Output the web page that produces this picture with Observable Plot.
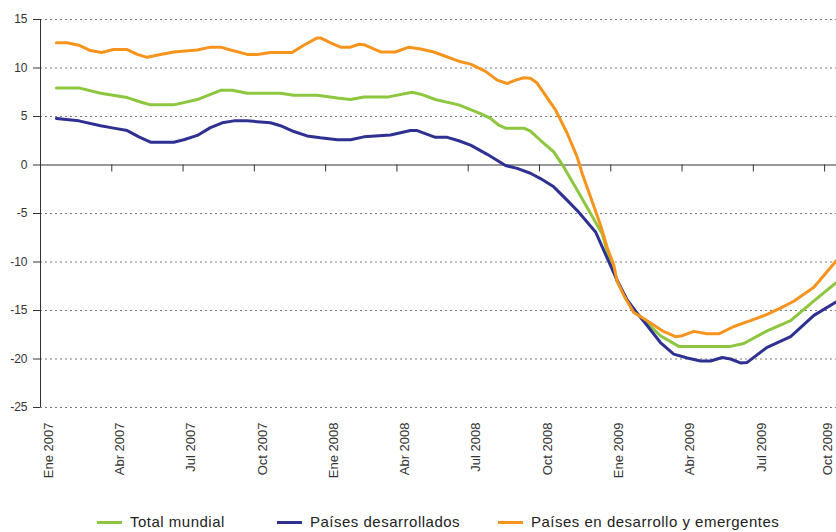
<!DOCTYPE html>
<html><head><meta charset="utf-8">
<script src="https://cdn.jsdelivr.net/npm/d3@7"></script>
<script src="https://cdn.jsdelivr.net/npm/@observablehq/plot@0.6"></script>
<style>
body{margin:0;background:#fff;font-family:"Liberation Sans",Arial,sans-serif;}
#wrap{position:relative;width:836px;height:532px;overflow:hidden;}
.leg{position:absolute;top:512px;height:20px;line-height:20px;display:flex;align-items:center;font-size:15px;letter-spacing:0.5px;color:#222;white-space:nowrap;}
.sw{display:inline-block;width:25px;height:3px;margin-right:8px;}
</style></head><body>
<div id="wrap"><div id="chart"></div><div id="legend"></div></div>
<script>
// Series names and colours
const seriesNames = ["Total mundial", "Países desarrollados", "Países en desarrollo y emergentes"];
const seriesColors = ["#8dc63f", "#2e3192", "#f7941d"];

// X ticks: months since Ene 2007
const tickMonths = [0, 3, 6, 9, 12, 15, 18, 21, 24, 27, 30, 33];
const tickLabels = ["Ene 2007", "Abr 2007", "Jul 2007", "Oct 2007", "Ene 2008", "Abr 2008", "Jul 2008", "Oct 2008", "Ene 2009", "Abr 2009", "Jul 2009", "Oct 2009"];
const yTicks = [-25, -20, -15, -10, -5, 0, 5, 10, 15];

// [months since Ene 2007, value]
const totalMundial = [
  [0.67,7.95],[1.61,7.95],[2.53,7.4],[3.65,6.95],[4.21,6.5],[4.63,6.2],[5.61,6.2],[6.6,6.75],
  [7.58,7.7],[8.07,7.7],[8.7,7.4],[10.1,7.4],[10.66,7.2],[11.65,7.2],[12.49,6.9],[13.05,6.75],
  [13.61,7.0],[14.59,7.0],[15.64,7.5],[16.0,7.3],[16.62,6.75],[17.6,6.2],[18.52,5.3],[18.94,4.8],
  [19.29,4.1],[19.57,3.8],[20.34,3.8],[20.62,3.5],[21.04,2.55],[21.6,1.35],[22.02,-0.2],[22.59,-2.6],
  [23.15,-5.0],[23.64,-7.1],[23.92,-9.5],[24.27,-12.0],[24.69,-14.0],[25.11,-15.3],[26.09,-17.6],
  [26.86,-18.7],[29.04,-18.7],[29.6,-18.4],[30.58,-17.1],[31.57,-16.05],[32.55,-14.0],[33.5,-12.1]
];
const paisesDesarrollados = [
  [0.67,4.8],[1.61,4.55],[2.53,4.05],[3.08,3.8],[3.65,3.55],[4.14,2.9],[4.63,2.35],[5.61,2.35],
  [6.03,2.6],[6.6,3.05],[7.15,3.85],[7.65,4.35],[8.14,4.55],[8.7,4.55],[9.68,4.35],[10.1,4.05],
  [10.66,3.45],[11.22,3.0],[11.78,2.8],[12.49,2.6],[13.05,2.6],[13.61,2.9],[14.73,3.1],[15.57,3.55],
  [15.85,3.55],[16.62,2.85],[17.12,2.85],[17.6,2.5],[18.1,2.05],[18.8,1.1],[19.57,-0.05],[20.06,-0.35],
  [20.62,-0.85],[21.04,-1.4],[21.6,-2.25],[22.17,-3.65],[22.59,-4.7],[23.36,-6.9],[23.85,-9.6],
  [24.27,-11.9],[24.69,-13.9],[25.11,-15.3],[25.53,-16.55],[26.09,-18.3],[26.65,-19.5],[27.22,-19.9],
  [27.78,-20.2],[28.2,-20.2],[28.69,-19.85],[29.04,-20.0],[29.46,-20.4],[29.74,-20.35],[30.58,-18.8],
  [31.57,-17.7],[32.55,-15.5],[33.5,-14.1]
];
const paisesEmergentes = [
  [0.67,12.6],[1.12,12.6],[1.61,12.35],[2.1,11.8],[2.57,11.6],[3.07,11.9],[3.65,11.9],[4.07,11.4],
  [4.49,11.1],[5.05,11.4],[5.61,11.65],[6.6,11.85],[7.15,12.15],[7.58,12.15],[8.0,11.85],[8.7,11.4],
  [9.12,11.4],[9.68,11.6],[10.59,11.6],[11.08,12.35],[11.65,13.1],[11.78,13.1],[12.21,12.6],[12.63,12.15],
  [13.05,12.15],[13.4,12.45],[13.61,12.4],[14.31,11.65],[14.94,11.65],[15.5,12.15],[16.0,11.95],
  [16.55,11.65],[17.6,10.7],[18.1,10.4],[18.73,9.65],[19.22,8.75],[19.64,8.4],[19.99,8.75],[20.34,9.0],
  [20.62,8.95],[20.9,8.45],[21.68,5.65],[22.17,3.25],[22.59,0.8],[22.8,-0.9],[23.15,-3.3],[23.57,-6.2],
  [23.85,-8.5],[24.13,-10.35],[24.27,-12.0],[24.55,-13.45],[24.97,-15.2],[25.53,-16.05],[26.17,-17.1],
  [26.73,-17.7],[27.01,-17.6],[27.5,-17.15],[28.06,-17.4],[28.55,-17.4],[29.18,-16.65],[29.88,-16.05],
  [30.58,-15.4],[31.14,-14.75],[31.7,-14.05],[32.55,-12.6],[33.5,-9.85]
];

const seriesData = [totalMundial, paisesDesarrollados, paisesEmergentes];
const rows = seriesData.flatMap((pts, i) => pts.map(([mes, valor]) => ({serie: seriesNames[i], mes, valor})));
const labelOf = d => tickLabels[tickMonths.indexOf(d)];
const lastTick = tickMonths[tickMonths.length - 1];

const chart = Plot.plot({
  width: 836,
  height: 490,
  marginTop: 19,
  marginBottom: 83,
  marginLeft: 40,
  marginRight: 0,
  style: {fontFamily: '"Liberation Sans", Arial, sans-serif', color: "#333", background: "#fff"},
  x: {domain: [0, 33.5]},
  y: {domain: [-25, 15]},
  color: {domain: seriesNames, range: seriesColors},
  marks: [
    Plot.ruleY(yTicks.filter(d => d !== 0), {stroke: "#7a7a7a", strokeWidth: 1, strokeDasharray: "2,3"}),
    Plot.ruleY([0], {stroke: "#333", strokeWidth: 1}),
    Plot.ruleX(tickMonths.filter(d => d > 0), {x: d => d, y1: 0, y2: 0, insetBottom: -7, stroke: "#333"}),
    Plot.ruleX([0], {stroke: "#333", strokeWidth: 1}),
    Plot.axisY({ticks: yTicks, tickSize: 7, tickPadding: 6, fontSize: 12, stroke: "#333", tickFormat: d => String(d), label: null}),
    Plot.axisX({ticks: tickMonths.filter(d => d !== lastTick), tickFormat: labelOf, tickRotate: -90, tickSize: 0, tickPadding: 15, dx: 8, fontSize: 13, label: null}),
    Plot.axisX({ticks: [lastTick], tickFormat: labelOf, tickRotate: -90, tickSize: 0, tickPadding: 15, dx: 3, fontSize: 13, label: null}),
    Plot.line(rows, {x: "mes", y: "valor", z: "serie", stroke: "serie", strokeWidth: 3, curve: "linear", strokeLinejoin: "round"})
  ]
});
document.getElementById("chart").appendChild(chart);

const legendLeft = [97, 277, 498];
const legend = document.getElementById("legend");
seriesNames.forEach((name, i) => {
  const item = document.createElement("div");
  item.className = "leg";
  item.style.left = legendLeft[i] + "px";
  item.innerHTML = `<span class="sw" style="background:${seriesColors[i]}"></span><span>${name}</span>`;
  legend.appendChild(item);
});
</script>
</body></html>
